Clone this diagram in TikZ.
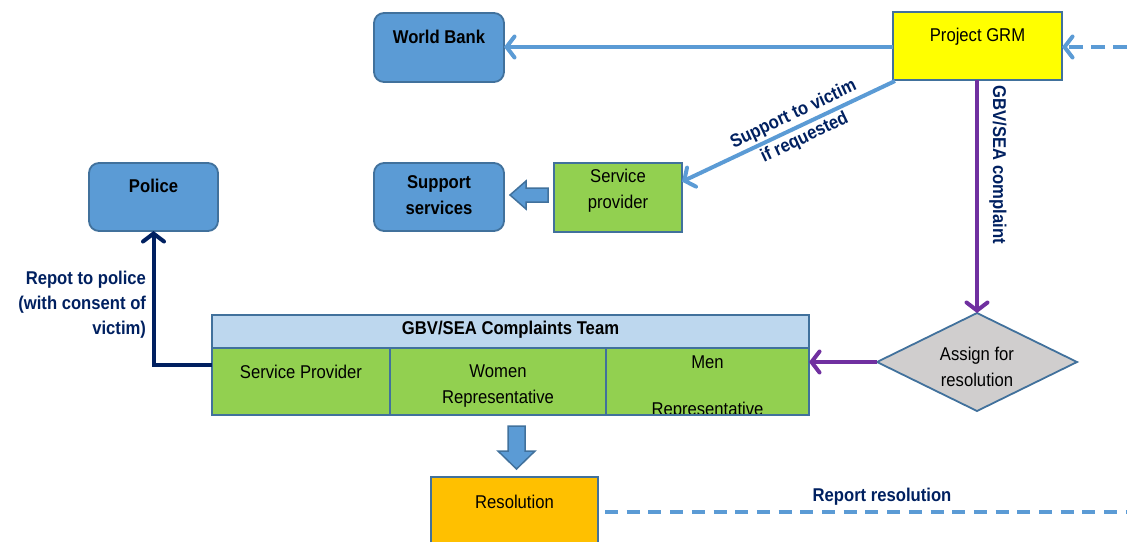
\documentclass[tikz,border=0pt]{standalone}
\usepackage{fontspec}
\setmainfont{Liberation Sans}[FakeStretch=0.9]
\usetikzlibrary{arrows.meta,shapes.geometric,calc}
\definecolor{bluebox}{HTML}{5B9BD5}
\definecolor{bord}{HTML}{41719C}
\definecolor{lineblue}{HTML}{5B9BD5}
\definecolor{navy}{HTML}{002060}
\definecolor{purp}{HTML}{7030A0}
\definecolor{grn}{HTML}{92D050}
\definecolor{hdr}{HTML}{BDD7EE}
\definecolor{orng}{HTML}{FFC000}
\definecolor{gry}{HTML}{D0CECE}
\definecolor{yel}{HTML}{FFFF00}
\begin{document}
\begin{tikzpicture}[x=1pt,y=-1pt,
  every node/.style={font=\fontsize{18.5}{26}\selectfont, inner sep=0pt, outer sep=0pt},
  bluerbox/.style={draw=bord, line width=1.8pt, fill=bluebox, rounded corners=10pt},
  plainbox/.style={draw=bord, line width=1.8pt},
  txt/.style={align=center, text=black},
  btxt/.style={align=center, text=black, font=\fontsize{18.5}{26}\selectfont\bfseries},
  lbl/.style={text=navy, font=\fontsize{18.5}{25}\selectfont\bfseries},
  barb/.style={-{Straight Barb[length=8pt,width=21pt,line cap=round]}},
  blueline/.style={draw=lineblue, line width=4pt, barb},
  purpline/.style={draw=purp, line width=4pt, barb},
  navyline/.style={draw=navy, line width=4pt, barb},
  blockarrow/.style={draw=bord, line width=1.5pt, fill=bluebox},
]
\useasboundingbox (0,0) rectangle (1127,542);

% top boxes
\node[bluerbox, minimum width=130pt, minimum height=69pt] (wb) at (439,47.5) {};
\node[btxt] (wbt) at (439,37) {World Bank};
\node[plainbox, fill=yel, minimum width=169pt, minimum height=68pt] (grm) at (977.5,46) {};
\node[txt] (grmt) at (977.5,37) {Project GRM};

% middle boxes
\node[bluerbox, minimum width=130pt, minimum height=68pt] (ss) at (439,197) {};
\node[btxt] (sst) at (439,195) {Support\\services};
\node[plainbox, fill=grn, minimum width=128pt, minimum height=69pt] (sp) at (618,197.5) {};
\node[txt] (spt) at (618,191) {Service\\provider};
\node[bluerbox, minimum width=129pt, minimum height=68pt] (pol) at (153.5,197) {};
\node[btxt] (polt) at (153.5,186) {Police};

% team table
\node[plainbox, fill=hdr, minimum width=597pt, minimum height=33pt] (hdr) at (510.5,331.5) {};
\node[btxt] (hdrt) at (510.5,330) {GBV/SEA Complaints Team};
\node[plainbox, fill=grn, minimum width=178pt, minimum height=67pt] (spc) at (301,381.5) {};
\node[plainbox, fill=grn, minimum width=216pt, minimum height=67pt] (wom) at (498,381.5) {};
\node[plainbox, fill=grn, minimum width=203pt, minimum height=67pt] (men) at (707.5,381.5) {};
\node[txt] (spct) at (301,372) {Service Provider};
\begin{scope}
  \clip (wom.north west) rectangle (wom.south east);
  \node[txt] (womt) at (498,386) {Women\\Representative};
\end{scope}
\begin{scope}
  \clip (men.north west) rectangle (men.south east);
  \node[txt, font=\fontsize{18.5}{23.5}\selectfont] (ment) at (707.5,388) {Men\\[0pt]\mbox{}\\Representative};
\end{scope}
\draw[draw=bord, line width=1.8pt] (spc.north west) rectangle (men.south east);

% diamond
\node[diamond, draw=bord, line width=1.8pt, fill=gry, minimum width=200pt, minimum height=98pt] (dia) at (977,362) {};
\node[txt] (diat) at (977,367) {Assign for\\resolution};

% resolution
\node[fill=orng, minimum width=167pt, minimum height=65pt] (res) at (514.5,509.5) {};
\draw[draw=bord, line width=1.8pt] (res.south west) -- (res.north west) -- (res.north east) -- (res.south east);
\node[txt] (rest) at (514.5,502) {Resolution};

% connectors
\coordinate (inR) at (1127,47);
\draw[blueline] (grm.west |- inR) -- (wb.east |- inR);
\draw[blueline, dash pattern=on 14pt off 8pt] (inR) -- (grm.east |- inR);

\coordinate (spin) at ($(sp.north east)!0.27!(sp.south east)$);
\draw[blueline] ($(grm.south west)+(2,1)$) -- (spin)
  node[pos=0.45, sloped, lbl, align=center, font=\fontsize{18.5}{26}\selectfont\bfseries] (suplbl) {Support to victim\\if requested};

\draw[purpline] (grm.south -| dia.north) -- (dia.north);
\node[lbl, rotate=-90] (gbvlbl) at (998,165) {GBV/SEA complaint};

\draw[purpline] (dia.west) -- (men.east |- dia.west);

\coordinate (spout) at ($(spc.north west)!0.25!(spc.south west)$);
\draw[navyline] (spout) -| (pol.south);
\node[lbl, align=right, anchor=east] (pollbl) at (146,305) {Repot to police\\(with consent of\\victim)};

\coordinate (outR) at (1127,512);
\draw[draw=lineblue, line width=4pt, dash pattern=on 13pt off 8.7pt] ($(res.north east)+(7,35)$) -- (outR);
\node[lbl] (replbl) at (882,497) {Report resolution};

% block arrows
\draw[blockarrow] (548,188) -- (526,188) -- (526,181) -- (510,195) -- (526,209) -- (526,202) -- (548,202) -- cycle;
\draw[blockarrow] (508,426) -- (525,426) -- (525,451) -- (535,451) -- (516.5,469) -- (498,451) -- (508,451) -- cycle;
\end{tikzpicture}
\end{document}
